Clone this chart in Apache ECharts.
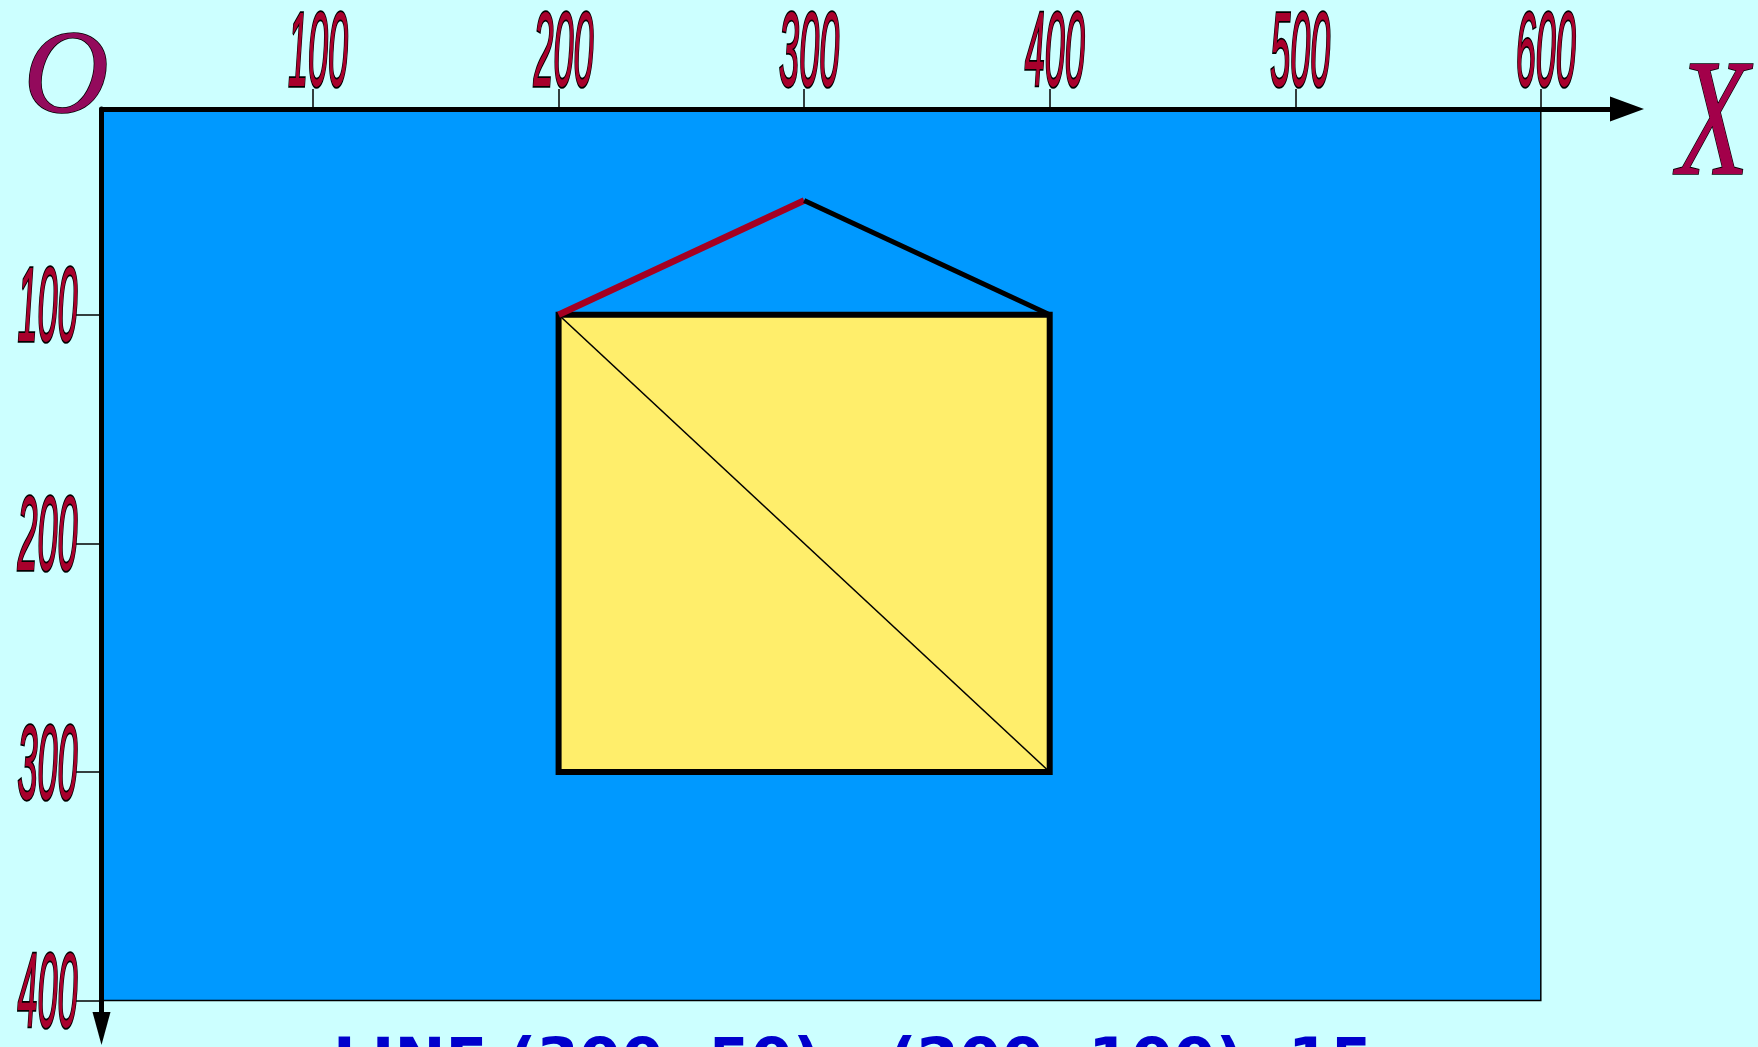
<!DOCTYPE html>
<html><head><meta charset="utf-8">
<script src="https://cdn.jsdelivr.net/npm/echarts@6/dist/echarts.min.js"></script>
<style>html,body{margin:0;padding:0;background:#CCFFFF;overflow:hidden;} #c{width:1758px;height:1047px;}</style>
</head><body><div id="c"></div>
<script>
// ---- data ----
const xTicks = [100, 200, 300, 400, 500, 600];
const xTickLabels = ['100', '200', '300', '400', '500', '600'];
const yTicks = [100, 200, 300, 400];
const yTickLabels = ['100', '200', '300', '400'];
const screenRect = [0, 0, 600, 400];            // x0, y0, x1, y1
const houseBody = [200, 100, 400, 300];         // x0, y0, x1, y1
const roofLeft = [[200, 100], [300, 50]];
const roofRight = [[300, 50], [400, 100]];
const bodyDiagonal = [[200, 100], [400, 300]];
const originLabel = 'O';
const axisName = 'X';
const caption = 'LINE (300, 50) - (200, 100), 15';

const X_MIN = 13.85, X_MAX = 635.1, Y_MIN = 10, Y_MAX = 412.2;

const chart = echarts.init(document.getElementById('c'), null, {renderer: 'canvas'});

const labelFont = 'italic 36px "Liberation Sans", Arial, sans-serif';
const labelFill = '#A8002C';

chart.setOption({
  animation: false,
  backgroundColor: '#CCFFFF',
  grid: {left: 101.5, top: 109, width: 1525.5, height: 919.5, containLabel: false},
  xAxis: {
    type: 'value', position: 'top', min: X_MIN, max: X_MAX, z: 10,
    axisLine: {show: true, onZero: false, symbol: ['none', 'triangle'], symbolSize: [25, 34],
      lineStyle: {color: '#000', width: 5}},
    axisTick: {show: true, customValues: xTicks, length: 20, lineStyle: {color: '#000', width: 1.5}},
    axisLabel: {show: false},
    splitLine: {show: false}
  },
  yAxis: {
    type: 'value', inverse: true, position: 'left', min: Y_MIN, max: Y_MAX, z: 10,
    axisLine: {show: true, onZero: false, symbol: ['triangle', 'none'], symbolSize: [18, 33],
      lineStyle: {color: '#000', width: 5}},
    axisTick: {show: true, customValues: yTicks, length: 27, lineStyle: {color: '#000', width: 1.5}},
    axisLabel: {show: false},
    splitLine: {show: false}
  },
  series: [
    { // screen area
      type: 'custom', clip: true, z: 1, silent: true,
      data: [screenRect],
      renderItem: function (params, api) {
        const p0 = api.coord([api.value(0), api.value(1)]);
        const p1 = api.coord([api.value(2), api.value(3)]);
        const gx = params.coordSys.x, gy = params.coordSys.y;
        const x0 = Math.max(p0[0], gx), y0 = Math.max(p0[1], gy);
        return {type: 'rect', shape: {x: x0, y: y0, width: p1[0] - x0, height: p1[1] - y0},
          style: {fill: '#0099FF', stroke: '#000', lineWidth: 1.5}};
      }
    },
    { // house body
      type: 'custom', z: 3, silent: true,
      data: [houseBody],
      renderItem: function (params, api) {
        const p0 = api.coord([api.value(0), api.value(1)]);
        const p1 = api.coord([api.value(2), api.value(3)]);
        return {type: 'rect', shape: {x: p0[0], y: p0[1], width: p1[0] - p0[0], height: p1[1] - p0[1]},
          style: {fill: '#FFEE6B', stroke: '#000', lineWidth: 6}};
      }
    },
    {type: 'line', z: 4, data: bodyDiagonal, symbol: 'none', silent: true,
      lineStyle: {color: '#000', width: 1.6}},
    {type: 'line', z: 5, data: roofLeft, symbol: 'none', silent: true,
      lineStyle: {color: '#A50021', width: 6.5, cap: 'butt'}},
    {type: 'line', z: 5, data: roofRight, symbol: 'none', silent: true,
      lineStyle: {color: '#000', width: 5, cap: 'butt'}},
    { // x tick labels
      type: 'custom', clip: false, z: 12, silent: true,
      data: xTicks.map(v => [v, Y_MIN]),
      renderItem: function (params, api) {
        const p = api.coord([api.value(0), api.value(1)]);
        return {type: 'text', x: p[0] + 5, y: p[1] - 53, scaleX: 1, scaleY: 2.95,
          style: {text: xTickLabels[params.dataIndex], font: labelFont, lineHeight: 26, fill: labelFill,
            stroke: '#000', lineWidth: 1.2, textAlign: 'center', textVerticalAlign: 'middle'}};
      }
    },
    { // y tick labels
      type: 'custom', clip: false, z: 12, silent: true,
      data: yTicks.map(v => [X_MIN, v]),
      renderItem: function (params, api) {
        const p = api.coord([api.value(0), api.value(1)]);
        return {type: 'text', x: p[0] - 24, y: p[1] - 3, scaleX: 1, scaleY: 2.95,
          style: {text: yTickLabels[params.dataIndex], font: labelFont, lineHeight: 26, fill: labelFill,
            stroke: '#000', lineWidth: 1.2, textAlign: 'right', textVerticalAlign: 'middle'}};
      }
    }
  ],
  graphic: [
    {type: 'text', x: 66, y: 81, z: 20,
      style: {text: originLabel, font: 'italic 118px "Liberation Serif", serif',
        fill: '#930A5C', stroke: '#000', lineWidth: 1.5, textAlign: 'center', textVerticalAlign: 'middle'}},
    {type: 'text', x: 1713, y: 130, scaleY: 1.42, z: 20,
      style: {text: axisName, font: 'italic 118px "Liberation Serif", serif',
        fill: '#A3004A', stroke: '#000', lineWidth: 1.2, textAlign: 'center', textVerticalAlign: 'middle'}},
    {type: 'text', x: 333, y: 1035, z: 20,
      style: {text: caption, font: 'bold 61px "DejaVu Sans", sans-serif', fill: '#0000CC',
        textAlign: 'left', textVerticalAlign: 'top'}}
  ]
});
</script>
</body></html>
